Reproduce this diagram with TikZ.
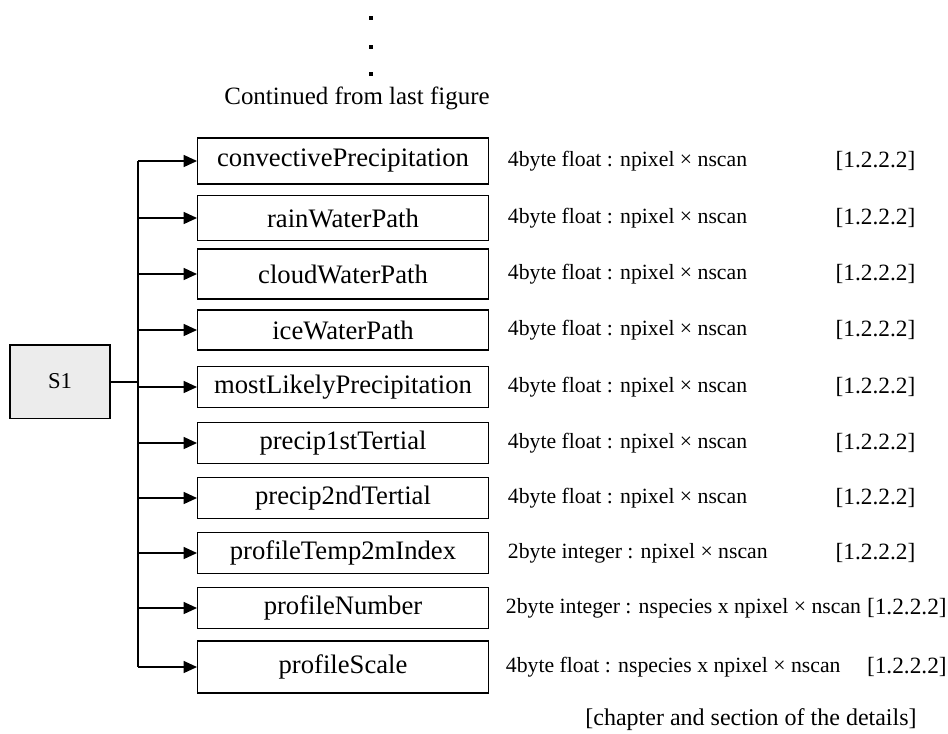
\documentclass[tikz,border=0pt]{standalone}
\usepackage{fontspec}
\setmainfont{Liberation Serif}
\usetikzlibrary{arrows.meta,positioning}

\tikzset{
  field/.style={draw, line width=1pt, anchor=west, minimum width=218pt, inner sep=0pt,
    font=\fontsize{20}{24}\selectfont},
  desc/.style={anchor=west, inner sep=0pt, font=\fontsize{16.3}{19}\selectfont},
  ref/.style={anchor=east, inner sep=0pt, font=\fontsize{17.5}{21}\selectfont},
  branch/.style={line width=1pt, -{Triangle[length=10pt,width=9pt]}},
  dotmark/.style={fill, inner sep=0pt, minimum size=3pt},
}

\begin{document}
\begin{tikzpicture}[x=0.75pt,y=-0.75pt]
  \useasboundingbox (0,0) rectangle (948,733);
  \foreach \d [count=\k] in {18,47,74}
    \node[dotmark] (dot\k) at (371,\d) {};
  \node[font=\fontsize{18.7}{22}\selectfont] (cont) at (357,98) {Continued from last figure};

  \node[draw, fill=gray!15, line width=1pt, minimum width=75pt, minimum height=55pt,
    font=\fontsize{17}{20}\selectfont] (s1) at (60,381.5) {S1};

  % fields of S1
  \foreach \name/\y/\h [count=\i] in {convectivePrecipitation/161/46, rainWaterPath/218/45,
      cloudWaterPath/274/50, iceWaterPath/330/40, mostLikelyPrecipitation/387/41,
      precip1stTertial/443/41, precip2ndTertial/498/41, profileTemp2mIndex/553/41,
      profileNumber/608/41, profileScale/667/52}
    \node[field, minimum height=\h*0.75pt] (f\i) at (197,\y) {\name};

  \coordinate (bus) at (138,381.5);
  \draw[line width=1.5pt] (s1.east) -- (bus);
  \draw[line width=1.5pt] (bus |- f1.west) -- (bus |- f10.west);
  \foreach \i in {1,...,10}
    \draw[branch] (bus |- f\i.west) -- (f\i.west);

  % types and sections
  \foreach \i/\txt in {1/4byte float : npixel × nscan, 2/4byte float : npixel × nscan,
      3/4byte float : npixel × nscan, 4/4byte float : npixel × nscan,
      5/4byte float : npixel × nscan, 6/4byte float : npixel × nscan,
      7/4byte float : npixel × nscan, 8/2byte integer : npixel × nscan}
  {
    \node[desc, right=14pt of f\i] (d\i) {\txt};
    \node[ref] (r\i) at ([xshift=320pt]f\i.east) {[1.2.2.2]};
  }
  \node[desc, right=12.5pt of f9] (d9) {2byte integer : nspecies x npixel × nscan};
  \node[ref] (r9) at ([xshift=343.5pt]f9.east) {[1.2.2.2]};
  \node[desc, right=12.5pt of f10] (d10) {4byte float : nspecies x npixel × nscan};
  \node[ref] (r10) at ([xshift=343.5pt]f10.east) {[1.2.2.2]};

  \node[font=\fontsize{18}{22}\selectfont] (note) at (751,720) {[chapter and section of the details]};
\end{tikzpicture}
\end{document}
